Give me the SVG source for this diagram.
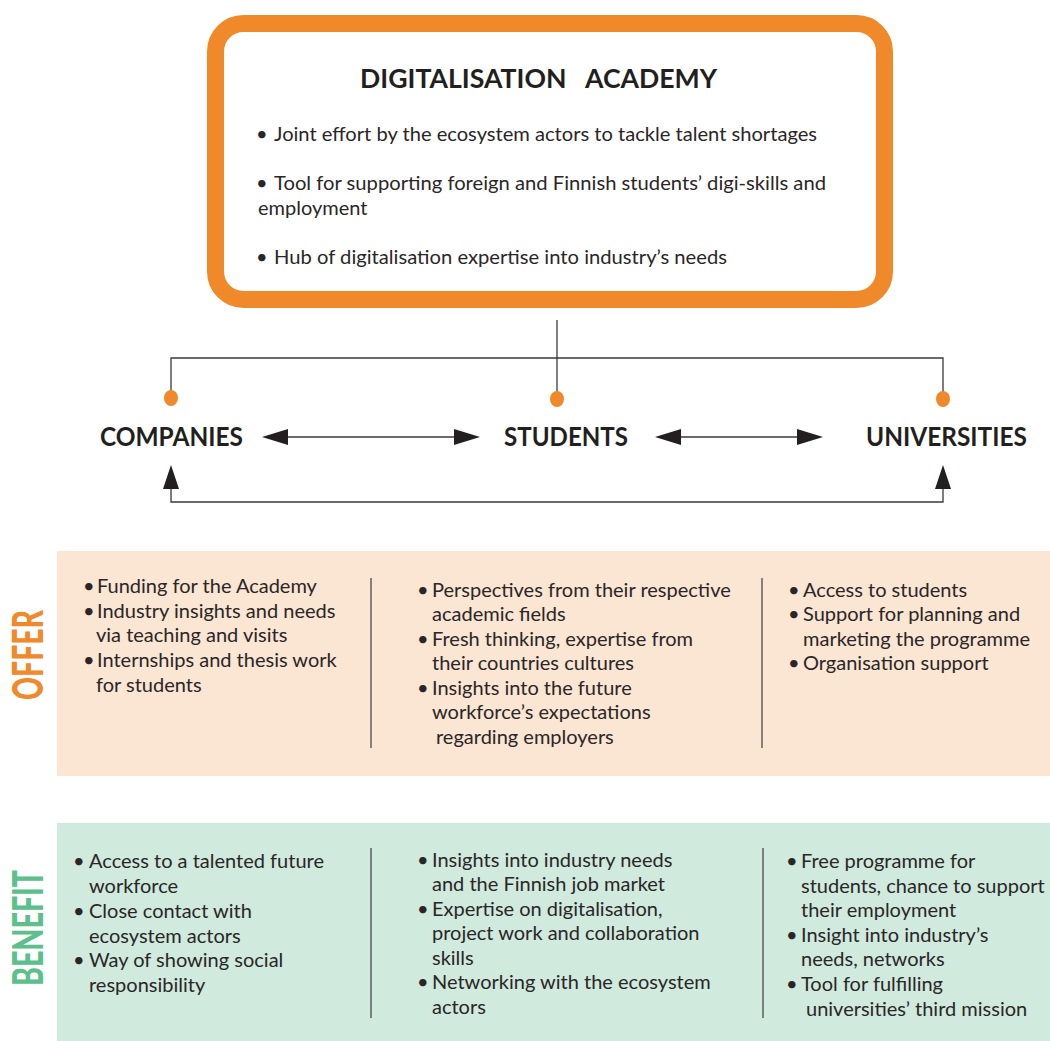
<svg xmlns="http://www.w3.org/2000/svg" width="1050" height="1041" viewBox="0 0 1050 1041">
<style>
.t{font-family:Lato,"Liberation Sans",sans-serif;font-size:20px;fill:#2a2627}
.h{font-family:Lato,"Liberation Sans",sans-serif;font-weight:bold;font-size:27px;fill:#231f20}
.v{font-family:Lato,"Liberation Sans",sans-serif;font-weight:900;font-size:42px}
.ln{stroke:#3a3a3a;stroke-width:1.3;fill:none}
.dv{stroke:#4a4a4a;stroke-width:1.3}
.dot{fill:#f0892a}
.ah{fill:#231f20}
</style>
<rect width="1050" height="1041" fill="#ffffff"/>
<g id="academy">
<rect x="215.5" y="23.5" width="669" height="276" rx="28" fill="#ffffff" stroke="#f0892a" stroke-width="17"/>
<text class="h" x="538.5" y="88" text-anchor="middle" font-size="28" textLength="357" lengthAdjust="spacingAndGlyphs" xml:space="preserve">DIGITALISATION   ACADEMY</text>
<text class="t" x="256" y="141"><tspan>•</tspan><tspan x="274" textLength="543" lengthAdjust="spacingAndGlyphs">Joint effort by the ecosystem actors to tackle talent shortages</tspan></text>
<text class="t" x="256" y="190"><tspan>•</tspan><tspan x="274" textLength="552" lengthAdjust="spacingAndGlyphs">Tool for supporting foreign and Finnish students’ digi-skills and</tspan></text>
<text class="t" x="258" y="215">employment</text>
<text class="t" x="256" y="264"><tspan>•</tspan><tspan x="274" textLength="453" lengthAdjust="spacingAndGlyphs">Hub of digitalisation expertise into industry’s needs</tspan></text>
</g>
<g id="connectors">
<line class="ln" x1="557" y1="320" x2="557" y2="398"/>
<polyline class="ln" points="171,398 171,358 943,358 943,398"/>
<line class="ln" x1="280" y1="437" x2="462" y2="437"/>
<polygon class="ah" points="262,437 288,429 288,445"/>
<polygon class="ah" points="480,437 454,429 454,445"/>
<line class="ln" x1="673" y1="437" x2="805" y2="437"/>
<polygon class="ah" points="655,437 681,429 681,445"/>
<polygon class="ah" points="823,437 797,429 797,445"/>
<polyline class="ln" points="171,480 171,502 943,502 943,480"/>
<polygon class="ah" points="171,465 163,489 179,489"/>
<polygon class="ah" points="943,465 935,489 951,489"/>
</g>
<g id="dots">
<ellipse class="dot" cx="171" cy="398" rx="7" ry="8"/>
<ellipse class="dot" cx="557" cy="399" rx="7" ry="8"/>
<ellipse class="dot" cx="943" cy="399" rx="7" ry="8"/>
</g>
<g id="companies"><text class="h" x="100" y="446" textLength="143" lengthAdjust="spacingAndGlyphs">COMPANIES</text></g>
<g id="students"><text class="h" x="504" y="446" textLength="124" lengthAdjust="spacingAndGlyphs">STUDENTS</text></g>
<g id="universities"><text class="h" x="866" y="446" textLength="161" lengthAdjust="spacingAndGlyphs">UNIVERSITIES</text></g>
<g id="offer">
<rect x="57" y="551" width="993" height="225" fill="#fbe5d3"/>
<text class="v" transform="translate(43,700) rotate(-90)" fill="#f0892a" textLength="90" lengthAdjust="spacingAndGlyphs">OFFER</text>
<line class="dv" x1="371" y1="578" x2="371" y2="748"/>
<line class="dv" x1="762" y1="578" x2="762" y2="748"/>
<text class="t" x="83" y="593">•<tspan x="97">Funding for the Academy</tspan></text>
<text class="t" x="83" y="618">•<tspan x="97">Industry insights and needs</tspan></text>
<text class="t" x="96" y="642">via teaching and visits</text>
<text class="t" x="83" y="667">•<tspan x="97">Internships and thesis work</tspan></text>
<text class="t" x="96" y="692">for students</text>
<text class="t" x="417" y="597">•<tspan x="432">Perspectives from their respective</tspan></text>
<text class="t" x="432" y="621">academic fields</text>
<text class="t" x="417" y="646">•<tspan x="432">Fresh thinking, expertise from</tspan></text>
<text class="t" x="432" y="670">their countries cultures</text>
<text class="t" x="417" y="695">•<tspan x="432">Insights into the future</tspan></text>
<text class="t" x="432" y="719">workforce’s expectations</text>
<text class="t" x="436" y="744">regarding employers</text>
<text class="t" x="788" y="597">•<tspan x="803">Access to students</tspan></text>
<text class="t" x="788" y="621">•<tspan x="803">Support for planning and</tspan></text>
<text class="t" x="803" y="646">marketing the programme</text>
<text class="t" x="788" y="670">•<tspan x="803">Organisation support</tspan></text>
</g>
<g id="benefit">
<rect x="57" y="823" width="993" height="218" fill="#d1eade"/>
<text class="v" transform="translate(43,986) rotate(-90)" fill="#5cbf8c" textLength="116" lengthAdjust="spacingAndGlyphs">BENEFIT</text>
<line class="dv" x1="371" y1="848" x2="371" y2="1018"/>
<line class="dv" x1="763" y1="848" x2="763" y2="1018"/>
<text class="t" x="73" y="868">•<tspan x="89">Access to a talented future</tspan></text>
<text class="t" x="89" y="893">workforce</text>
<text class="t" x="73" y="918">•<tspan x="89">Close contact with</tspan></text>
<text class="t" x="89" y="943">ecosystem actors</text>
<text class="t" x="73" y="967">•<tspan x="89">Way of showing social</tspan></text>
<text class="t" x="89" y="992">responsibility</text>
<text class="t" x="417" y="867">•<tspan x="432">Insights into industry needs</tspan></text>
<text class="t" x="432" y="891">and the Finnish job market</text>
<text class="t" x="417" y="916">•<tspan x="432">Expertise on digitalisation,</tspan></text>
<text class="t" x="432" y="940">project work and collaboration</text>
<text class="t" x="432" y="965">skills</text>
<text class="t" x="417" y="989">•<tspan x="432">Networking with the ecosystem</tspan></text>
<text class="t" x="432" y="1014">actors</text>
<text class="t" x="786" y="868">•<tspan x="801">Free programme for</tspan></text>
<text class="t" x="801" y="893">students, chance to support</text>
<text class="t" x="801" y="917">their employment</text>
<text class="t" x="786" y="942">•<tspan x="801">Insight into industry’s</tspan></text>
<text class="t" x="801" y="966">needs, networks</text>
<text class="t" x="786" y="991">•<tspan x="801">Tool for fulfilling</tspan></text>
<text class="t" x="806" y="1016">universities’ third mission</text>
</g>
</svg>
